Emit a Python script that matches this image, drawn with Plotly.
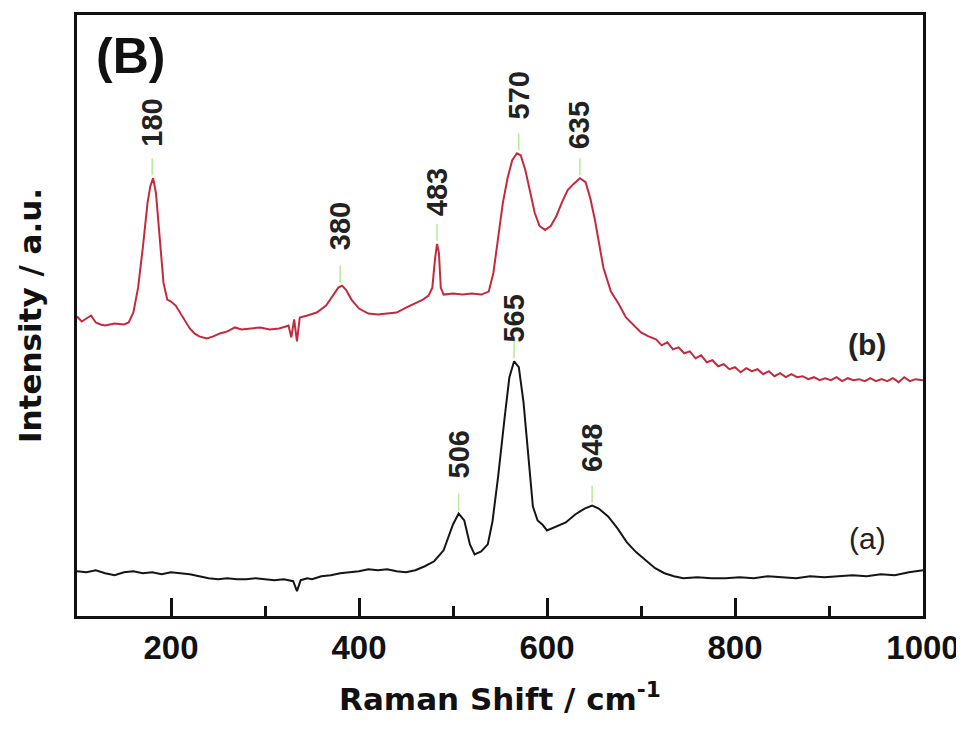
import plotly.graph_objects as go

# ---- data (arbitrary intensity units) ----
x_a = [100, 110, 120, 130, 140, 150, 160, 170, 180, 190, 200, 210, 220, 230, 240, 250, 260, 270, 280, 290,
       300, 310, 320, 330, 334, 338, 345, 350, 360, 370, 380, 390, 400, 410, 420, 430, 440, 450, 460, 470,
       480, 490, 495, 500, 506, 512, 518, 523, 530, 537, 542, 548, 555, 560, 565, 570, 575, 580, 585, 590,
       595, 600, 605, 612, 620, 630, 640, 648, 655, 665, 675, 685, 695, 705, 715, 725, 735, 745, 760, 775,
       790, 805, 820, 835, 850, 865, 880, 895, 910, 925, 940, 955, 970, 985, 1000]
y_a = [45, 44, 46, 43, 41, 44, 45, 43, 44, 42, 44, 43, 42, 40, 38, 37, 38, 37, 37, 38,
       37, 36, 37, 35, 25, 36, 38, 37, 40, 41, 43, 44, 45, 47, 46, 47, 45, 44, 46, 50,
       55, 66, 78, 92, 103, 96, 72, 62, 65, 72, 95, 140, 200, 240, 256, 250, 215, 160, 110, 96,
       92, 86, 88, 90, 94, 102, 108, 111, 108, 100, 88, 74, 64, 56, 48, 43, 40, 38, 39, 38,
       38, 39, 38, 40, 39, 38, 40, 39, 40, 41, 40, 42, 41, 44, 46]

x_b = [100, 105, 110, 115, 120, 125, 130, 140, 150, 155, 160, 165, 170, 175, 178, 181, 184, 188, 192, 196,
       200, 205, 210, 215, 220, 225, 230, 238, 245, 252, 260, 268, 275, 285, 295, 305, 315, 322, 325, 328,
       331, 334, 337, 345, 355, 365, 372, 378, 382, 386, 392, 400, 410, 420, 430, 440, 450, 460, 468, 474,
       478, 481, 483, 485, 487, 490, 500, 510, 520, 530, 538, 543, 548, 553, 558, 563, 568, 572, 577, 582,
       587, 592, 598, 604, 610, 616, 622, 628, 635, 641, 646, 651, 656, 660, 668, 676, 684, 692, 700, 708,
       716, 722, 728, 734, 740, 746, 752, 758, 764, 770, 776, 782, 788, 794, 800, 806, 812, 818, 824, 830,
       836, 842, 848, 854, 860, 866, 872, 878, 884, 890, 896, 902, 908, 914, 920, 926, 932, 938, 944, 950,
       956, 962, 968, 974, 980, 986, 992, 1000]
y_b = [301, 296, 299, 302, 295, 293, 292, 294, 293, 295, 305, 330, 370, 415, 432, 440, 425, 380, 335, 318,
       316, 312, 304, 296, 289, 284, 281, 279, 281, 284, 286, 290, 288, 289, 290, 288, 289, 291, 292, 280,
       298, 276, 300, 302, 305, 312, 322, 330, 332, 328, 318, 309, 304, 303, 304, 305, 310, 314, 318, 322,
       330, 360, 374, 365, 330, 323, 324, 323, 324, 323, 326, 345, 380, 415, 440, 458, 465, 463, 448, 425,
       405, 392, 388, 392, 402, 416, 428, 434, 440, 436, 420, 398, 370, 350, 326, 314, 300, 292, 285, 281,
       278, 272, 275, 268, 270, 264, 266, 259, 262, 255, 257, 251, 253, 248, 250, 245, 249, 246, 248, 243,
       246, 241, 244, 240, 243, 240, 241, 238, 240, 237, 239, 237, 240, 236, 239, 237, 238, 236, 239, 236,
       238, 236, 239, 235, 240, 236, 238, 237]

peaks_b = [180, 380, 483, 570, 635]
peak_h_b = [440, 332, 374, 465, 440]
label_y_b = [496, 392, 426, 523, 493]

peaks_a = [506, 565, 648]
peak_h_a = [103, 256, 111]
label_y_a = [162, 299, 169]

x_ticks = [200, 400, 600, 800, 1000]

FONT = "Liberation Sans, Arial, sans-serif"
TFONT = "DejaVu Sans, Liberation Sans, sans-serif"

fig = go.Figure()

# green peak markers
gx, gy = [], []
for px, ph in list(zip(peaks_b, peak_h_b)) + list(zip(peaks_a, peak_h_a)):
    gx += [px, px, None]
    gy += [ph + 3, ph + 20, None]
fig.add_trace(go.Scatter(x=gx, y=gy, mode="lines", line=dict(color="#b5ea9a", width=1.5),
                         showlegend=False, hoverinfo="skip"))

fig.add_trace(go.Scatter(x=x_b, y=y_b, mode="lines", name="(b)",
                         line=dict(color="#c42a3c", width=2), showlegend=False))
fig.add_trace(go.Scatter(x=x_a, y=y_a, mode="lines", name="(a)",
                         line=dict(color="#151515", width=2), showlegend=False))

annotations = []
for px, ly in list(zip(peaks_b, label_y_b)) + list(zip(peaks_a, label_y_a)):
    annotations.append(dict(x=px, y=ly, xref="x", yref="y", text=f"<b>{px}</b>", showarrow=False,
                            textangle=-90, font=dict(family=FONT, size=29, color="#222")))

annotations.append(dict(x=157, y=563, xref="x", yref="y", text="<b>(B)</b>", showarrow=False,
                        font=dict(family=FONT, size=50, color="#111")))
annotations.append(dict(x=940, y=273, xref="x", yref="y", text="<b>(b)</b>", showarrow=False,
                        font=dict(family=FONT, size=30, color="#222")))
annotations.append(dict(x=941, y=78, xref="x", yref="y", text="(a)", showarrow=False,
                        font=dict(family=FONT, size=30, color="#222")))

fig.update_layout(
    width=956, height=721,
    margin=dict(l=69, r=39, t=4, b=113),
    paper_bgcolor="white", plot_bgcolor="white",
    annotations=annotations,
    xaxis=dict(
        range=[100, 1000], tickmode="array", tickvals=x_ticks,
        ticktext=[f"<b>{v}</b>" for v in x_ticks],
        ticks="inside", ticklen=18, tickwidth=2.5, tickcolor="#111",
        minor=dict(ticks="inside", ticklen=10, tickwidth=2.5, tickcolor="#111", dtick=100, tick0=100,
                   showgrid=False),
        showline=True, linewidth=3, linecolor="#111", mirror=True,
        showgrid=False, zeroline=False,
        tickfont=dict(family=FONT, size=33, color="#111"),
        title=dict(text="<b>Raman Shift / cm<sup>-1</sup></b>", standoff=24,
                   font=dict(family=TFONT, size=31, color="#111")),
    ),
    yaxis=dict(
        range=[0, 604], showticklabels=False, ticks="",
        showline=True, linewidth=3, linecolor="#111", mirror=True,
        showgrid=False, zeroline=False,
        title=dict(text="<b>Intensity / a.u.</b>", standoff=24,
                   font=dict(family=TFONT, size=31, color="#111")),
    ),
)

fig.write_html("out.html")
